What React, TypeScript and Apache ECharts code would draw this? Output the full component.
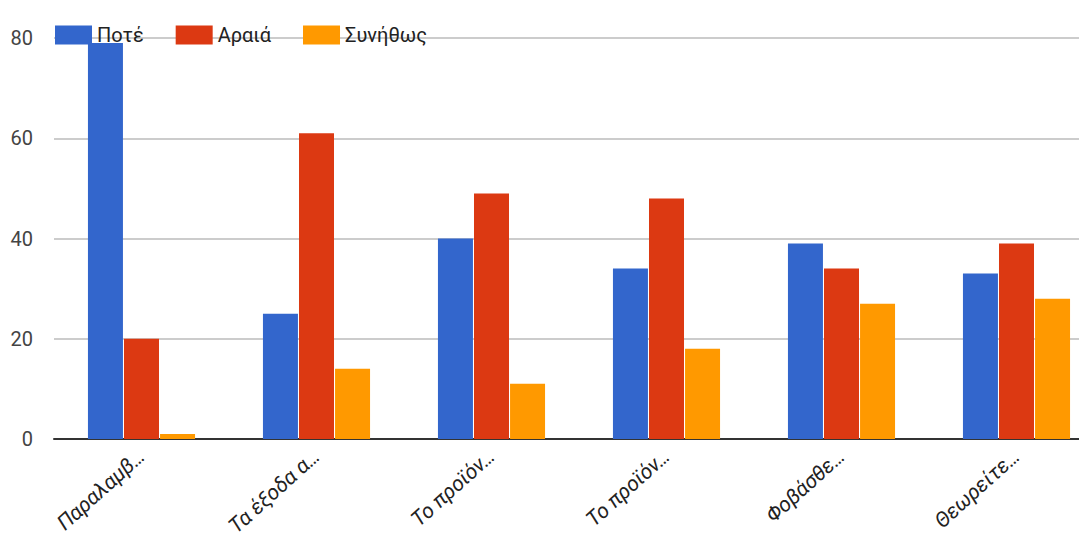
import React, { useEffect, useRef } from "react";
import * as echarts from "echarts";

const categories = ["Παραλαμβ…", "Τα έξοδα α…", "Το προϊόν…", "Το προϊόν…", "Φοβάσθε…", "Θεωρείτε…"];
const seriesNames = ["Ποτέ", "Αραιά", "Συνήθως"];
const never = [79, 25, 40, 34, 39, 33];
const rarely = [20, 61, 49, 48, 34, 39];
const usually = [1, 14, 11, 18, 27, 28];
const yTicks = [0, 20, 40, 60, 80];
const colors = ["#3366cc", "#dc3912", "#ff9900"];

export default function App() {
  const ref = useRef<HTMLDivElement>(null);

  useEffect(() => {
    if (!ref.current) return;
    const chart = echarts.init(ref.current, null, { renderer: "svg" });
    const font = "Roboto, Arial, sans-serif";
    const values = [never, rarely, usually];
    chart.setOption({
      animation: false,
      color: colors,
      legend: {
        left: 50,
        top: 20,
        itemWidth: 37,
        itemHeight: 19,
        itemGap: 32,
        icon: "rect",
        textStyle: { fontFamily: font, fontSize: 20, color: "#222" },
        data: seriesNames,
      },
      grid: {
        left: 54,
        top: 38,
        width: 1050,
        height: 401,
        containLabel: false,
        outerBoundsMode: "none",
      },
      xAxis: {
        type: "category",
        data: categories,
        axisLine: { lineStyle: { color: "#333", width: 2 } },
        axisTick: { show: false },
        axisLabel: {
          rotate: 42,
          interval: 0,
          margin: 14,
          fontFamily: font,
          fontStyle: "italic",
          fontSize: 21,
          color: "#222",
        },
      },
      yAxis: {
        type: "value",
        min: yTicks[0],
        max: yTicks[yTicks.length - 1],
        interval: 20,
        axisLine: { show: false },
        axisTick: { show: false },
        splitLine: { lineStyle: { color: "#cccccc", width: 2 } },
        axisLabel: { fontFamily: font, fontSize: 20, color: "#444", margin: 21 },
      },
      series: seriesNames.map((name, i) => ({
        name,
        type: "bar",
        data: values[i],
        barWidth: 35,
        barGap: "3%",
        itemStyle: { color: colors[i] },
      })),
    });
    return () => chart.dispose();
  }, []);

  return (
    <div
      ref={ref}
      style={{ position: "fixed", left: 0, top: 0, width: 1079, height: 546, background: "#fff" }}
    />
  );
}
